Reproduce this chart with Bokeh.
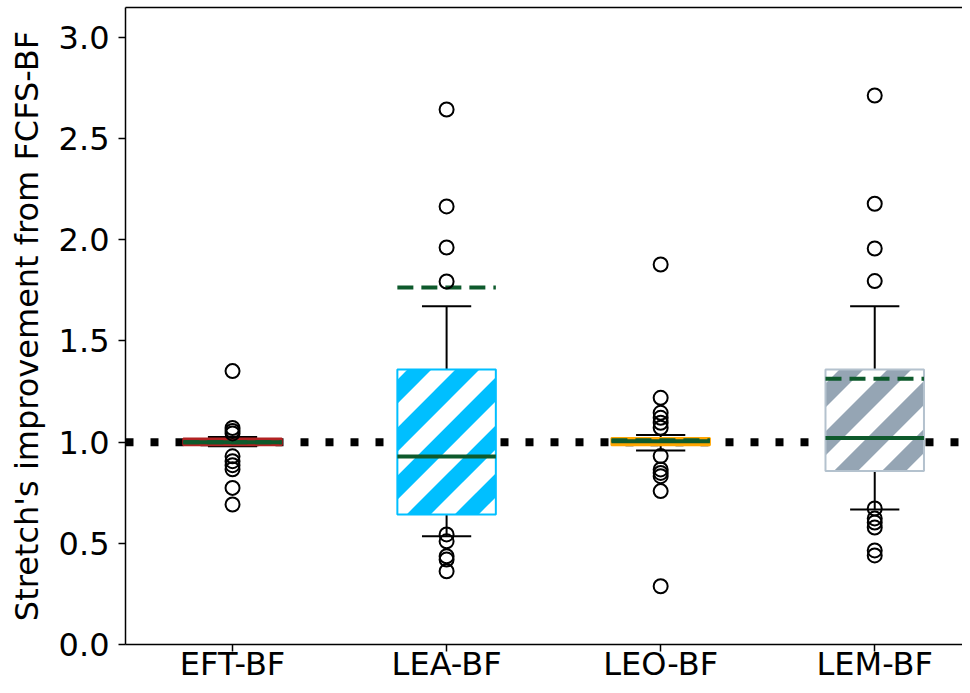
import numpy as np
from bokeh.plotting import figure
from bokeh.models import ColumnDataSource, FixedTicker, LinearAxis, Range1d, Span
from bokeh.embed import file_html
from bokeh.resources import INLINE

# ---- data ----
categories = ["EFT-BF", "LEA-BF", "LEO-BF", "LEM-BF"]
positions = [1, 2, 3, 4]
q1 = [0.985, 0.643, 0.985, 0.857]
q3 = [1.018, 1.359, 1.020, 1.359]
medians = [1.000, 0.929, 1.005, 1.021]
means = [1.000, 1.764, 1.010, 1.313]
whisker_low = [0.980, 0.535, 0.959, 0.667]
whisker_high = [1.025, 1.672, 1.035, 1.672]
outliers_eft = [1.351, 1.070, 1.055, 1.043, 0.930, 0.906, 0.886, 0.866, 0.774, 0.692]
outliers_lea = [2.644, 2.165, 1.962, 1.794, 0.544, 0.510, 0.436, 0.420, 0.362]
outliers_leo = [1.878, 1.219, 1.145, 1.120, 1.096, 1.071, 0.931, 0.865, 0.848, 0.832, 0.758, 0.288]
outliers_lem = [2.713, 2.178, 1.957, 1.796, 0.672, 0.623, 0.603, 0.578, 0.465, 0.440]
reference_level = 1.0
y_ticks = [0.0, 0.5, 1.0, 1.5, 2.0, 2.5, 3.0]

# ---- styles / layout ----
box_fill = ["#B22222", "#00BFFF", "#FFA500", "#95A5B4"]
box_edge = ["#B22222", "#00BFFF", "#FFA500", "#B4C2CE"]
box_hatched = [False, True, False, True]
dark_green = "#0E5A2C"
FONT = "DejaVu Sans"
FS = "32px"
box_w = 0.46
cap_w = 0.23

W, H = 962, 685
BL, BT, BB = 125, 7, 40
X0, X1 = 0.5, 4.41
Y0, Y1 = 0.0, 3.148

p = figure(width=W, height=H,
           x_range=Range1d(X0, X1), y_range=Range1d(Y0, Y1),
           output_backend="svg", toolbar_location=None,
           min_border_left=BL, min_border_right=0, min_border_top=BT,
           min_border_bottom=BB)
p.grid.visible = False
p.outline_line_color = None
p.background_fill_color = "white"
p.border_fill_color = "white"

# reference line
p.add_layout(Span(location=reference_level, dimension="width", line_color="black",
                  line_width=8, line_dash="8 17", line_cap="butt", level="underlay"))

pos = np.array(positions, dtype=float)
box_src = ColumnDataSource(dict(x=pos, top=q3, bottom=q1, fill=box_fill, edge=box_edge))

# whiskers
p.segment(x0=pos, y0=q3, x1=pos, y1=whisker_high, line_color="black", line_width=2)
p.segment(x0=pos, y0=q1, x1=pos, y1=whisker_low, line_color="black", line_width=2)
p.segment(x0=pos - cap_w / 2, y0=whisker_high, x1=pos + cap_w / 2, y1=whisker_high,
          line_color="black", line_width=2)
p.segment(x0=pos - cap_w / 2, y0=whisker_low, x1=pos + cap_w / 2, y1=whisker_low,
          line_color="black", line_width=2)

# box fills
p.vbar(x="x", top="top", bottom="bottom", width=box_w, source=box_src,
       fill_color="fill", line_color=None)

# 45-degree white hatch stripes ("/"), computed in screen pixels and clipped to each box
frame_x0, frame_y0 = 8 + BL - 8, 8  # frame left / top in picture pixels
sx = (W - BL) / (X1 - X0)
sy = (H - BT - 41) / (Y1 - Y0)
PERIOD, WHITE, PHASE = 48.0, 24.0, 33.0


def to_px(x, y):
    return frame_x0 + (x - X0) * sx, frame_y0 + (Y1 - y) * sy


def to_data(u, v):
    return X0 + (u - frame_x0) / sx, Y1 - (v - frame_y0) / sy


def clip(poly, f):
    out = []
    n = len(poly)
    for i in range(n):
        cur, prev = poly[i], poly[i - 1]
        fc, fp = f(cur), f(prev)
        if fc >= 0:
            if fp < 0:
                t = fp / (fp - fc)
                out.append((prev[0] + t * (cur[0] - prev[0]), prev[1] + t * (cur[1] - prev[1])))
            out.append(cur)
        elif fp >= 0:
            t = fp / (fp - fc)
            out.append((prev[0] + t * (cur[0] - prev[0]), prev[1] + t * (cur[1] - prev[1])))
    return out


stripe_xs, stripe_ys = [], []
for i, hatched in enumerate(box_hatched):
    if not hatched:
        continue
    ul, vt = to_px(pos[i] - box_w / 2, q3[i])
    ur, vb = to_px(pos[i] + box_w / 2, q1[i])
    rect = [(ul, vt), (ur, vt), (ur, vb), (ul, vb)]
    smin, smax = ul + vt, ur + vb
    k0 = int(np.floor((smin - PHASE) / PERIOD)) - 1
    k1 = int(np.ceil((smax - PHASE) / PERIOD)) + 1
    for k in range(k0, k1 + 1):
        a = PHASE + k * PERIOD
        b = a + WHITE
        poly = clip(rect, lambda q, a=a: q[0] + q[1] - a)
        if len(poly) < 3:
            continue
        poly = clip(poly, lambda q, b=b: b - (q[0] + q[1]))
        if len(poly) < 3:
            continue
        dx, dy = zip(*[to_data(u, v) for u, v in poly])
        stripe_xs.append(list(dx))
        stripe_ys.append(list(dy))

p.patches(xs=stripe_xs, ys=stripe_ys, fill_color="white", line_color=None)

# box outlines
p.vbar(x="x", top="top", bottom="bottom", width=box_w, source=box_src,
       fill_color=None, line_color="edge", line_width=2)

# medians and means
p.segment(x0=pos - box_w / 2, y0=medians, x1=pos + box_w / 2, y1=medians,
          line_color=dark_green, line_width=4)
p.segment(x0=pos - box_w / 2, y0=means, x1=pos + box_w / 2, y1=means,
          line_color=dark_green, line_width=4, line_dash="16 8")

# outliers
for x, vals in zip(positions, [outliers_eft, outliers_lea, outliers_leo, outliers_lem]):
    p.scatter(x=[x] * len(vals), y=vals, marker="circle", size=14,
              fill_color=None, line_color="black", line_width=2)

# axes
p.xaxis.ticker = FixedTicker(ticks=positions)
p.xaxis.major_label_overrides = {x: c for x, c in zip(positions, categories)}
p.yaxis.ticker = FixedTicker(ticks=y_ticks)
p.yaxis.major_label_overrides = {t: f"{t:.1f}" for t in y_ticks}
p.yaxis.axis_label = "Stretch's improvement from FCFS-BF"
for ax in (p.xaxis[0], p.yaxis[0]):
    ax.axis_line_color = "black"
    ax.axis_line_width = 1.5
    ax.major_tick_line_color = "black"
    ax.major_tick_line_width = 1.5
    ax.major_tick_out = 7
    ax.major_tick_in = 0
    ax.minor_tick_line_color = None
    ax.major_label_text_font = FONT
    ax.major_label_text_font_size = FS
    ax.major_label_text_color = "black"
    ax.axis_label_text_font = FONT
    ax.axis_label_text_font_size = FS
    ax.axis_label_text_font_style = "normal"
    ax.axis_label_text_color = "black"
p.yaxis.major_label_standoff = 9
p.yaxis.axis_label_standoff = 10
p.xaxis.major_label_standoff = -7

top = LinearAxis(ticker=FixedTicker(ticks=[]), major_tick_line_color=None,
                 minor_tick_line_color=None, major_label_text_font_size="0px",
                 axis_line_color="black", axis_line_width=1.5)
p.add_layout(top, "above")

open("out.html", "w").write(file_html(p, INLINE))
